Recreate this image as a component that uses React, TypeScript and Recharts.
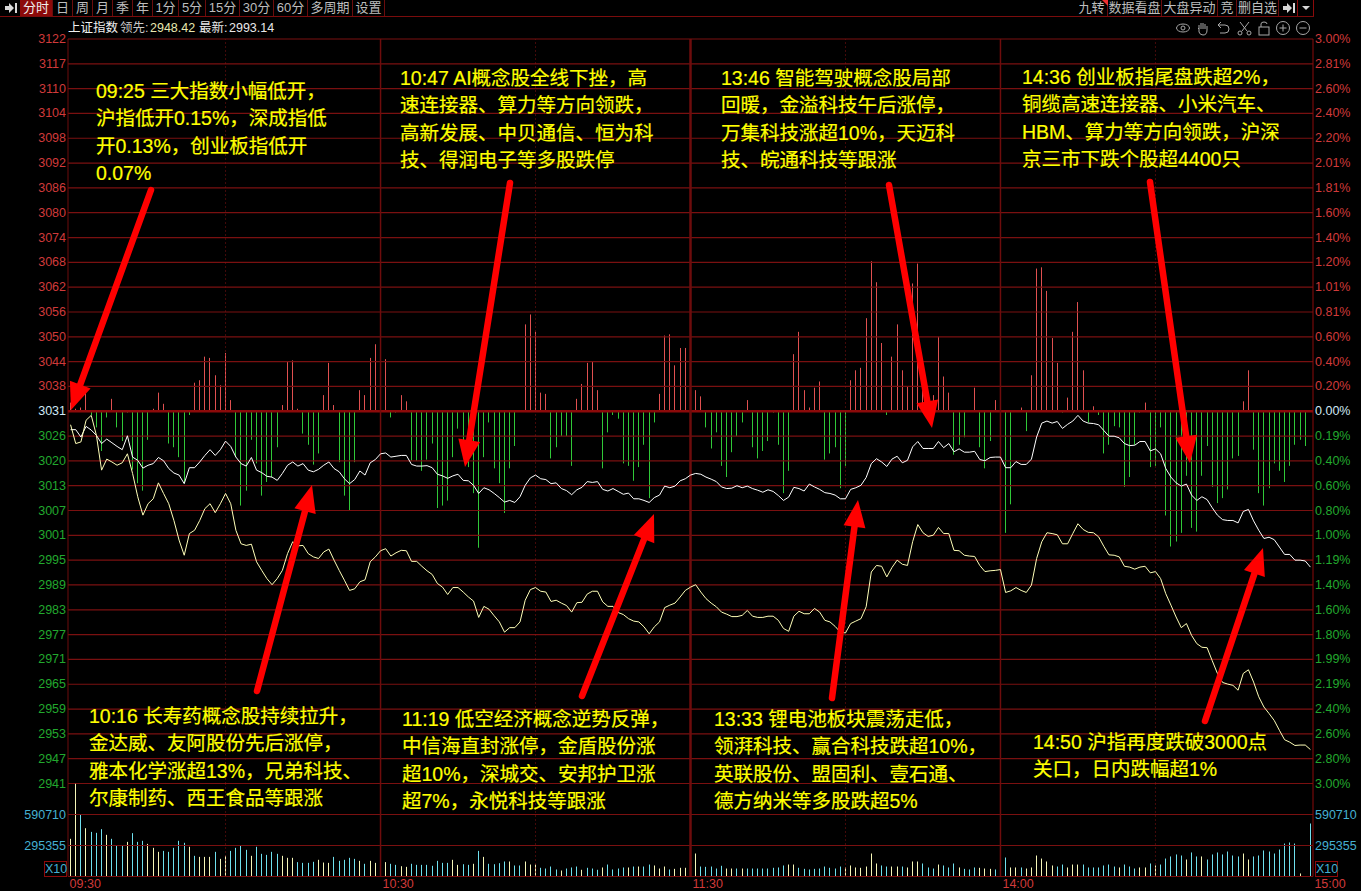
import React from 'react';
import { ComposedChart, Bar, Line, XAxis, YAxis, ReferenceLine } from 'recharts';

// left and right scale labels, top to bottom
const priceLabels = ['3122','3117','3110','3104','3098','3092','3086','3080','3074','3068','3062','3056','3050','3044','3038','3031','3026','3020','3013','3007','3001','2995','2989','2983','2977','2971','2965','2959','2953','2947','2941'];
const pctLabels = ['3.00%','2.81%','2.60%','2.40%','2.20%','2.01%','1.81%','1.60%','1.40%','1.20%','1.01%','0.81%','0.60%','0.40%','0.20%','0.00%','0.19%','0.40%','0.60%','0.80%','1.00%','1.19%','1.40%','1.60%','1.80%','1.99%','2.19%','2.40%','2.60%','2.80%','3.00%'];
const gridSteps = [15,14,13,12,11,10,9,8,7,6,5,4,3,2,1,0,-1,-2,-3,-4,-5,-6,-7,-8,-9,-10,-11,-12,-13,-14,-15];
const timeTicks = [0, 60, 120, 180, 240];
const timeLabels = ['09:30', '10:30', '11:30', '14:00', '15:00'];
const solidHours = [60, 120, 180];
const dottedHalfHours = [30, 90, 150, 210];
const volumeTicks = [295.355, 590.71];

// the scale is drawn in 31 even steps round the previous close
const PREV_CLOSE = 3031;
const PRICE_STEP = 91 / 15;
const BP_STEP = 20;
const priceTicks = gridSteps.map((s) => PREV_CLOSE + s * PRICE_STEP);
const bpTicks = gridSteps.map((s) => s * BP_STEP);

// 上证指数, one value per minute
const indexLine = [
  3026.5,3026.5,3024.7,3027.3,3026.4,3025.1,3023.1,3024.2,3023.3,3022.4,
  3021.6,3025.0,3019.8,3019.0,3017.1,3017.8,3018.2,3019.7,3018.9,3017.0,
  3015.9,3015.4,3013.3,3017.2,3017.2,3018.6,3020.2,3021.6,3020.2,3021.6,
  3023.7,3022.4,3019.8,3018.2,3017.6,3019.7,3016.6,3016.0,3015.1,3014.9,
  3014.1,3015.8,3017.8,3018.6,3017.6,3018.2,3016.6,3016.2,3016.8,3017.8,
  3018.6,3017.0,3016.2,3014.5,3013.3,3014.3,3016.4,3015.4,3018.4,3019.2,
  3020.6,3020.8,3019.8,3020.0,3020.2,3020.2,3018.0,3017.6,3017.6,3017.7,
  3017.2,3015.6,3015.2,3014.6,3015.2,3015.6,3014.1,3014.0,3012.9,3010.9,
  3012.3,3011.8,3010.9,3009.9,3008.8,3009.2,3008.7,3010.1,3012.9,3014.7,
  3015.4,3014.5,3014.3,3013.3,3013.5,3012.1,3011.6,3010.6,3011.8,3012.4,
  3013.8,3013.6,3013.8,3011.9,3011.5,3012.1,3011.4,3010.7,3011.0,3009.6,
  3009.6,3009.2,3008.7,3009.9,3010.5,3012.7,3012.3,3012.7,3014.0,3014.5,
  3015.4,3015.8,3015.6,3014.9,3014.4,3013.8,3012.5,3012.1,3012.2,3012.8,
  3012.3,3012.7,3012.1,3011.7,3011.2,3011.8,3011.4,3010.4,3009.2,3010.0,
  3012.4,3012.1,3011.5,3013.2,3012.5,3011.9,3011.1,3010.9,3010.5,3009.6,
  3009.6,3011.9,3012.3,3012.9,3014.8,3018.2,3019.4,3018.6,3017.5,3019.3,
  3020.0,3018.4,3019.0,3022.3,3023.6,3021.9,3021.9,3021.9,3023.6,3022.1,
  3023.1,3021.1,3021.8,3021.0,3021.0,3021.2,3019.2,3018.9,3019.7,3019.8,
  3019.8,3017.2,3017.2,3018.7,3018.0,3018.0,3019.3,3024.7,3028.1,3028.6,
  3028.1,3028.5,3026.8,3027.8,3028.6,3030.0,3028.6,3028.1,3028.0,3027.7,
  3026.3,3024.9,3024.9,3024.5,3023.1,3022.6,3022.7,3023.6,3023.6,3021.3,
  3021.8,3020.6,3017.0,3014.9,3013.5,3012.7,3013.2,3010.5,3009.2,3010.1,
  3009.4,3007.4,3005.6,3004.5,3004.3,3004.3,3003.7,3006.5,3007.0,3004.2,
  3001.9,2999.9,3000.2,2999.6,2997.8,2996.0,2996.0,2994.6,2994.6,2994.4,
  2992.9,
];

// 领先, one value per minute
const leadLine = [
  3027.7,3023.1,3023.5,3028.8,3030.0,3025.1,3016.6,3019.3,3018.6,3017.8,
  3018.4,3020.6,3015.8,3010.1,3005.6,3008.4,3009.6,3013.5,3010.9,3008.4,
  3004.3,2999.5,2995.8,3001.1,3001.9,3004.3,3007.2,3008.4,3006.2,3008.4,
  3010.9,3008.4,3001.9,2998.6,2998.2,2998.5,2994.2,2992.1,2990.1,2988.6,
  2990.1,2992.1,2996.2,2999.1,2998.1,2998.2,2996.2,2995.4,2995.0,2996.6,
  2997.3,2994.6,2992.1,2989.7,2987.2,2987.6,2989.3,2989.8,2994.2,2995.4,
  2996.9,2997.4,2995.6,2996.4,2997.0,2996.9,2994.3,2994.3,2993.1,2992.0,
  2991.1,2988.9,2988.0,2986.2,2987.9,2987.9,2986.8,2985.6,2984.6,2980.6,
  2983.3,2982.6,2981.0,2979.5,2977.0,2978.1,2978.1,2979.5,2984.8,2987.4,
  2987.9,2987.0,2986.8,2984.5,2984.8,2984.1,2983.5,2981.9,2984.2,2984.3,
  2986.3,2987.0,2987.0,2984.4,2983.3,2983.3,2981.8,2981.3,2980.3,2979.7,
  2979.5,2978.3,2976.6,2978.3,2979.5,2983.0,2983.6,2984.1,2985.6,2987.2,
  2988.0,2988.6,2986.8,2985.2,2984.1,2983.2,2981.9,2981.4,2980.8,2980.8,
  2981.1,2982.3,2980.9,2980.6,2980.6,2980.9,2980.9,2979.9,2977.9,2977.2,
  2980.9,2982.1,2981.5,2981.5,2982.8,2981.9,2979.9,2979.5,2978.4,2977.0,
  2976.8,2979.1,2979.7,2980.3,2983.2,2991.7,2993.3,2993.1,2990.5,2992.8,
  2994.6,2993.6,2993.3,2999.1,3003.3,3001.3,3000.4,3000.7,3002.6,3001.1,
  3001.1,2997.0,2996.9,2995.8,2995.6,2995.5,2993.3,2991.8,2992.0,2992.1,
  2992.3,2986.7,2987.1,2987.9,2987.2,2986.7,2988.5,2995.0,2999.1,3001.3,
  3001.1,3000.8,2998.6,2998.6,3001.1,3003.5,3002.1,3001.4,3001.3,3000.3,
  2998.0,2995.9,2995.8,2995.4,2993.1,2992.9,2992.4,2992.9,2993.1,2991.5,
  2991.8,2990.1,2986.4,2983.6,2980.7,2978.1,2979.1,2976.2,2974.2,2973.3,
  2973.2,2970.0,2966.9,2964.7,2964.3,2964.0,2962.8,2966.9,2967.8,2964.8,
  2961.2,2958.7,2957.1,2955.4,2953.0,2950.7,2950.1,2949.3,2949.4,2949.4,
  2948.3,
];

// red / green bars round the zero line, in hundredths of a percent on the right scale
const breadth = [
  7,2,3,15,-3,-13,-32,-5,10,-13,
  -24,-1,-47,-58,-64,-23,2,15,6,-26,
  -29,-37,-58,-3,23,25,44,43,29,21,
  47,9,-37,-76,-64,-23,-42,-68,-57,-53,
  -29,5,40,41,2,-18,-27,-43,-34,13,
  39,5,-41,-68,-80,-41,17,13,43,54,
  49,42,-5,-1,13,8,-40,-40,-48,-39,
  -26,-78,-76,-72,-37,-14,-30,-45,-66,-110,
  -37,-9,-46,-58,-82,-46,-28,1,70,78,
  64,15,14,-38,-29,-20,-20,-44,10,22,
  39,40,17,-46,-17,-3,-6,-42,-44,-56,
  -45,-27,-70,-9,14,61,62,37,51,51,
  0,17,12,-13,-30,-17,-44,-53,-33,-20,
  -9,9,-29,-38,-32,-24,-1,-27,-66,-48,
  46,64,17,3,19,24,-39,-34,-29,-62,
  -44,25,33,35,75,121,104,55,-3,44,
  70,33,20,103,119,40,8,13,60,28,
  15,-35,-27,-21,1,19,-29,-46,-24,9,
  9,-98,-75,1,3,-16,29,115,116,97,
  59,39,-1,11,64,88,33,-9,4,-3,
  -34,-27,-12,-13,-61,-53,-27,-1,7,-45,
  -44,-13,-84,-109,-105,-98,-52,-94,-97,-52,
  -28,-61,-74,-70,-63,-38,-36,8,33,-31,
  -66,-76,-62,-42,-48,-57,-44,-27,-23,-28,
  0,
];

// volume in thousands
const volume = [
  359,883,587,460,425,416,451,397,359,292,
  292,330,413,330,340,311,273,235,244,235,
  273,340,321,283,197,187,187,187,235,168,
  197,244,273,292,254,197,283,216,206,235,
  216,197,178,178,137,130,130,140,159,133,
  130,187,149,159,178,168,149,121,149,130,
  130,137,121,111,98,92,121,111,111,111,
  102,149,130,130,159,111,117,111,121,244,
  187,121,117,127,143,143,105,105,143,114,
  114,83,76,95,67,57,76,86,95,64,
  83,76,64,86,114,67,76,86,86,95,
  95,95,114,105,76,95,67,73,83,83,
  86,219,95,92,95,76,102,76,76,76,
  76,76,76,76,76,76,83,86,105,114,
  114,83,73,67,73,76,95,83,76,95,
  86,105,86,83,95,219,124,105,95,95,
  95,95,86,143,143,124,86,76,114,105,
  86,124,86,73,67,86,83,76,73,67,
  67,181,86,86,86,76,86,200,171,143,
  105,95,114,86,114,114,114,86,86,86,
  105,114,95,86,114,95,76,86,86,124,
  105,114,171,191,210,200,162,229,191,191,
  162,210,229,210,238,200,191,219,162,191,
  200,248,238,219,257,314,324,314,29,0,
  505,
];

// 1 = pale yellow bar, 0 = cyan bar
const volumeRise = [
  1,1,0,1,0,0,0,1,0,0,
  0,1,0,0,0,1,1,1,0,0,
  0,0,0,1,0,1,1,1,0,1,
  1,0,0,0,0,1,0,0,0,0,
  0,1,1,1,0,0,0,0,1,1,
  1,0,0,0,0,0,1,0,1,1,
  1,1,0,0,1,1,0,0,0,0,
  0,0,0,0,1,1,0,0,1,0,
  1,0,0,0,0,1,0,0,1,1,
  1,0,0,0,0,1,0,0,0,1,
  0,0,0,1,0,0,0,0,1,0,
  1,0,0,1,1,1,0,1,1,1,
  1,1,0,0,0,0,0,1,1,0,
  1,0,0,0,0,0,0,0,0,1,
  1,0,0,0,0,0,0,0,0,0,
  1,1,1,1,1,1,1,0,0,1,
  1,0,1,1,1,0,0,0,1,0,
  0,0,1,0,0,0,1,1,1,0,
  1,0,1,1,0,1,1,1,1,1,
  1,0,0,1,1,1,0,0,0,0,
  0,0,0,1,0,0,0,1,1,0,
  1,0,0,0,0,0,1,0,0,1,
  0,0,0,0,0,0,0,1,1,0,
  0,0,0,0,0,0,0,0,1,0,
  0,
];

const table = indexLine.map((v, i) => ({ i, index: v, lead: leadLine[i], breadth: breadth[i], volume: volume[i], rise: volumeRise[i] }));

const notes = [
  { x: 96, y: 78, lines: ['09:25 三大指数小幅低开，', '沪指低开0.15%，深成指低', '开0.13%，创业板指低开', '0.07%'] },
  { x: 400, y: 65, lines: ['10:47 AI概念股全线下挫，高', '速连接器、算力等方向领跌，', '高新发展、中贝通信、恒为科', '技、得润电子等多股跌停'] },
  { x: 721, y: 65, lines: ['13:46 智能驾驶概念股局部', '回暖，金溢科技午后涨停，', '万集科技涨超10%，天迈科', '技、皖通科技等跟涨'] },
  { x: 1022, y: 64, lines: ['14:36 创业板指尾盘跌超2%，', '铜缆高速连接器、小米汽车、', 'HBM、算力等方向领跌，沪深', '京三市下跌个股超4400只'] },
  { x: 89, y: 703, lines: ['10:16 长寿药概念股持续拉升，', '金达威、友阿股份先后涨停，', '雅本化学涨超13%，兄弟科技、', '尔康制药、西王食品等跟涨'] },
  { x: 402, y: 706, lines: ['11:19 低空经济概念逆势反弹，', '中信海直封涨停，金盾股份涨', '超10%，深城交、安邦护卫涨', '超7%，永悦科技等跟涨'] },
  { x: 714, y: 706, lines: ['13:33 锂电池板块震荡走低，', '领湃科技、赢合科技跌超10%，', '英联股份、盟固利、壹石通、', '德方纳米等多股跌超5%'] },
  { x: 1033, y: 729, lines: ['14:50 沪指再度跌破3000点', '关口，日内跌幅超1%'] },
];

const arrows = [
  [151, 190, 71, 410],
  [510, 183, 465, 467],
  [889, 185, 932, 428],
  [1150, 182, 1190, 463],
  [257, 691, 312, 485],
  [582, 696, 654, 514],
  [832, 698, 858, 500],
  [1205, 721, 1263, 548],
];

const leftTools = [
  ['分时', 20, 33], ['日', 53, 20], ['周', 73, 20], ['月', 93, 20], ['季', 113, 20], ['年', 133, 20],
  ['1分', 153, 26], ['5分', 179, 27], ['15分', 206, 34], ['30分', 240, 34], ['60分', 274, 34], ['多周期', 308, 45], ['设置', 353, 32],
];
const rightTools = [['九转', 1076, 32], ['数据看盘', 1108, 54], ['大盘异动', 1162, 56], ['竞', 1218, 19], ['删自选', 1237, 42]];

const FONT = '"Liberation Sans", "Noto Sans CJK SC", sans-serif';
const GRID = '#7a1010';
const AXIS_RED = '#d03a3a';
const AXIS_GREEN = '#22a82e';
const VOL_BLUE = '#45b0d2';

function labelColor(i: number) {
  if (i < 15) return AXIS_RED;
  if (i === 15) return '#cfe8f5';
  return AXIS_GREEN;
}

const LeftTick = ({ x, y, payload }: any) => {
  const i = 15 - Math.round((payload.value - PREV_CLOSE) / PRICE_STEP);
  return <text x={x} y={y} dy={4} textAnchor="end" fontSize={12.5} fontFamily={FONT} fill={labelColor(i)}>{priceLabels[i]}</text>;
};

const RightTick = ({ x, y, payload }: any) => {
  const i = 15 - Math.round(payload.value / BP_STEP);
  return <text x={x} y={y} dy={4} textAnchor="start" fontSize={12.5} fontFamily={FONT} fill={labelColor(i)}>{pctLabels[i]}</text>;
};

const VolTick = ({ x, y, payload, textAnchor }: any) => (
  <text x={x} y={y} dy={4} textAnchor={textAnchor} fontSize={12.5} fontFamily={FONT} fill={VOL_BLUE}>
    {Math.round(payload.value * 1000)}
  </text>
);

const TimeTick = ({ x, y, payload }: any) => {
  const i = timeTicks.indexOf(payload.value);
  const dx = i === 0 ? -1 : i === 4 ? 4 : 2;
  return <text x={x + dx} y={y + 9} textAnchor="start" fontSize={12.5} fontFamily={FONT} fill={AXIS_RED}>{timeLabels[i]}</text>;
};

// one crisp pixel column per bar
const BreadthBar = ({ x, y, width, height, payload }: any) => {
  const top = Math.min(y, y + height);
  return <rect x={Math.round(x + width / 2 - 0.5)} y={top} width={1} height={Math.abs(height)} fill={payload.breadth >= 0 ? '#e05050' : '#30c838'} />;
};

const VolumeBar = ({ x, y, width, height, payload }: any) => (
  <rect x={Math.round(x + width / 2 - 0.5)} y={y} width={1} height={height} fill={payload.rise ? '#f6f6b8' : '#6fe0ee'} />
);

function arrowShape(a: number[], k: number) {
  const [x1, y1, x2, y2] = a;
  const len = Math.hypot(x2 - x1, y2 - y1);
  const ux = (x2 - x1) / len;
  const uy = (y2 - y1) / len;
  const hx = x2 - ux * 27;
  const hy = y2 - uy * 27;
  const pts = [[x2, y2], [hx - uy * 11, hy + ux * 11], [hx + uy * 11, hy - ux * 11]].map((p) => p.join(',')).join(' ');
  return (
    <g key={k}>
      <line x1={x1} y1={y1} x2={hx} y2={hy} stroke="#ff0000" strokeWidth={6.5} strokeLinecap="round" />
      <polygon points={pts} fill="#ff0000" />
    </g>
  );
}

function ToolIcons() {
  return (
    <svg width={140} height={16} style={{ position: 'absolute', left: 1175, top: 20 }} fill="none" stroke="#a8a8a8" strokeWidth={1}>
      <ellipse cx={8} cy={8} rx={6.5} ry={4} />
      <circle cx={8} cy={8} r={2} />
      <path d="M24 9 V5 M26 9 V3 M28 9 V3 M30 9 V4 M32 10 V6 M24 9 L23 8 M24 9 V12 Q25 15 28 15 Q32 15 32 10" />
      <path d="M43 5 L46 2 M43 5 L46 8 M43 5 H50 Q54 5 54 9 Q54 13 50 13 H45" />
      <path d="M65 2 L72 11 M74 2 L67 11" />
      <circle cx={65} cy={13} r={2} />
      <circle cx={74} cy={13} r={2} />
      <rect x={84} y={7} width={10} height={8} />
      <path d="M86 7 V4 Q86 2 89 2 Q92 2 92 4" />
      <circle cx={108} cy={8} r={6.5} />
      <path d="M104.5 8 H111.5 M108 4.5 V11.5" />
      <circle cx={128} cy={8} r={6.5} />
      <path d="M124.5 8 H131.5" />
    </svg>
  );
}

function Toolbar() {
  const cell = (t: any, active: boolean) => (
    <div key={t[0]} style={{ position: 'absolute', left: t[1], width: t[2], top: 0, height: 16, lineHeight: '16px', textAlign: 'center', fontSize: 13, whiteSpace: 'nowrap', color: active ? '#f0f0f0' : '#bdbdbd', background: active ? '#8c0a0a' : 'transparent', borderRight: '1px solid #6a0c0c', boxSizing: 'border-box', fontFamily: FONT }}>
      {t[0]}
    </div>
  );
  return (
    <div style={{ position: 'absolute', left: 0, top: 0, width: 1314, height: 17, borderBottom: '1px solid #7a0c0c', boxSizing: 'border-box' }}>
      <svg width={20} height={16} style={{ position: 'absolute', left: 0, top: 0 }}>
        <path d="M5 6 H9 V3 L14 8 L9 13 V10 H5 Z M15 3 H17 V13 H15 Z" fill="#d8d8d8" />
      </svg>
      {leftTools.map((t) => cell(t, t[0] === '分时'))}
      {rightTools.map((t) => cell(t, false))}
      <svg width={40} height={16} style={{ position: 'absolute', left: 1280, top: 0 }}>
        <path d="M3 6 H7 V3 L12 8 L7 13 V10 H3 Z M13 3 H15 V13 H13 Z" fill="#d8d8d8" />
        <path d="M22 6 H30 L26 10 Z" fill="#d8d8d8" />
        <path d="M17.5 0 V16 M33.5 0 V16" stroke="#8c0a0a" />
      </svg>
      <svg width={6} height={6} style={{ position: 'absolute', left: 1102, top: 0 }}>
        <path d="M0 0 H6 V6 Z" fill="#f03030" />
      </svg>
    </div>
  );
}

function InfoLine() {
  const s = (left: number, color: string, text: string) => (
    <span style={{ position: 'absolute', left, top: 21, fontSize: 12.5, lineHeight: '15px', color, fontFamily: FONT, whiteSpace: 'nowrap' }}>{text}</span>
  );
  return (
    <>
      {s(68, '#f0f0f0', '上证指数')}
      {s(120, '#c8c8c8', '领先:')}
      {s(150, '#e8e8b0', '2948.42')}
      {s(199, '#e8e8e8', '最新:')}
      {s(229, '#e8e8e8', '2993.14')}
    </>
  );
}

function X10Box({ left }: { left: number }) {
  return (
    <div style={{ position: 'absolute', left, top: 861, width: 23, height: 16, border: '1px solid #8c0a0a', boxSizing: 'border-box', color: VOL_BLUE, fontSize: 12.5, lineHeight: '14px', textAlign: 'center', fontFamily: FONT }}>
      X10
    </div>
  );
}

function verticals(yAxisId: string) {
  return [
    ...solidHours.map((h) => (
      <ReferenceLine key={h} x={h} yAxisId={yAxisId} stroke="#6e0c0c" strokeWidth={h === 120 ? 2.5 : 1.5} />
    )),
    ...dottedHalfHours.map((h) => (
      <ReferenceLine key={h} x={h} yAxisId={yAxisId} stroke="#8a1414" strokeDasharray="1 3" />
    )),
  ];
}

export default function App() {
  return (
    <div style={{ position: 'absolute', left: 0, top: 0, width: 1361, height: 891, background: '#000', overflow: 'hidden' }}>
      <Toolbar />
      <InfoLine />
      <ToolIcons />

      <div style={{ position: 'absolute', left: 0, top: 0 }}>
        <ComposedChart width={1361} height={891} data={table} margin={{ top: 39, right: 0, bottom: 107.5, left: 0 }} barCategoryGap={0}>
          <XAxis dataKey="i" hide />
          <YAxis yAxisId="price" type="number" domain={[PREV_CLOSE - 91, PREV_CLOSE + 91]} ticks={priceTicks} interval={0} width={68} tick={LeftTick} tickLine={false} tickSize={0} tickMargin={2} axisLine={{ stroke: '#6e0c0c' }} />
          <YAxis yAxisId="bp" orientation="right" type="number" domain={[-300, 300]} ticks={bpTicks} interval={0} width={48} tick={RightTick} tickLine={false} tickSize={0} tickMargin={2} axisLine={{ stroke: '#8c0a0a' }} />
          {bpTicks.map((t) => (
            <ReferenceLine key={t} y={t} yAxisId="bp" stroke={t === 0 ? '#8c0a0a' : GRID} strokeWidth={t === 0 ? 2.5 : 1.2} />
          ))}
          {verticals('bp')}
          <Bar yAxisId="bp" dataKey="breadth" barSize={1} shape={BreadthBar} isAnimationActive={false} />
          <Line yAxisId="price" dataKey="index" type="linear" stroke="#ffffff" strokeWidth={1} dot={false} isAnimationActive={false} />
          <Line yAxisId="price" dataKey="lead" type="linear" stroke="#ffffb8" strokeWidth={1} dot={false} isAnimationActive={false} />
        </ComposedChart>
      </div>

      <div style={{ position: 'absolute', left: 0, top: 0 }}>
        <ComposedChart width={1361} height={891} data={table} margin={{ top: 783.5, right: 0, bottom: 0, left: 0 }} barCategoryGap={0}>
          <XAxis dataKey="i" ticks={timeTicks} interval={0} height={14.5} tick={TimeTick} tickLine={false} tickSize={0} axisLine={{ stroke: '#7a0c0c' }} />
          <YAxis yAxisId="vol" type="number" domain={[0, 886.065]} ticks={volumeTicks} width={68} tick={<VolTick textAnchor="end" />} tickLine={false} tickSize={0} tickMargin={2} axisLine={{ stroke: '#6e0c0c' }} />
          <YAxis yAxisId="volR" orientation="right" type="number" domain={[0, 886.065]} ticks={volumeTicks} width={48} tick={<VolTick textAnchor="start" />} tickLine={false} tickSize={0} tickMargin={2} axisLine={{ stroke: '#8c0a0a' }} />
          {volumeTicks.map((t) => (
            <ReferenceLine key={t} y={t} yAxisId="vol" stroke={GRID} strokeWidth={1.2} />
          ))}
          {verticals('vol')}
          <Bar yAxisId="vol" dataKey="volume" barSize={1} shape={VolumeBar} isAnimationActive={false} />
          <Line yAxisId="volR" dataKey="volume" stroke="none" dot={false} isAnimationActive={false} />
        </ComposedChart>
      </div>

      <X10Box left={44} />
      <X10Box left={1315} />

      <svg width={1361} height={891} style={{ position: 'absolute', left: 0, top: 0, pointerEvents: 'none' }}>
        {arrows.map(arrowShape)}
      </svg>

      {notes.map((n) => (
        <div key={n.x} style={{ position: 'absolute', left: n.x, top: n.y, color: '#ffff00', fontSize: 19.5, lineHeight: '27.3px', fontFamily: FONT, whiteSpace: 'nowrap', WebkitTextStroke: '0.2px #ffff00' }}>
          {n.lines.map((l) => <div key={l}>{l}</div>)}
        </div>
      ))}
    </div>
  );
}
